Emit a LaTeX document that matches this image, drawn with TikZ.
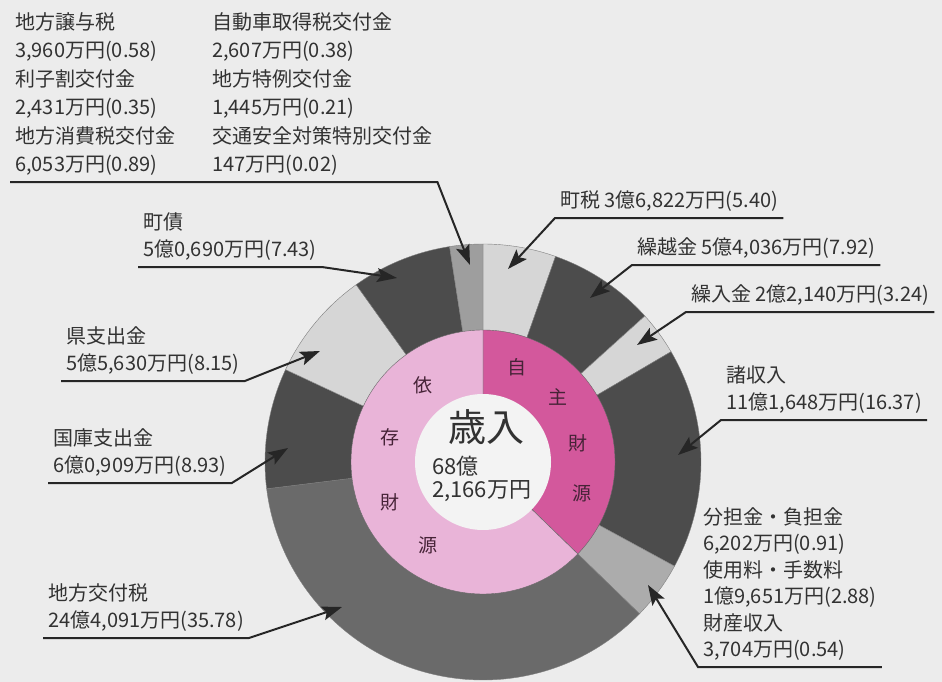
\documentclass[tikz,border=0pt]{standalone}
\usepackage{fontspec}
\setmainfont{Noto Sans CJK JP}
\usepackage{xcolor}
\usepackage{tikz}
\usetikzlibrary{arrows.meta}

\definecolor{bgGray}{RGB}{236,236,236}
\definecolor{txtGray}{RGB}{50,50,50}
\definecolor{lightSlice}{RGB}{214,214,214}
\definecolor{darkSlice}{RGB}{76,76,76}
\definecolor{kofuSlice}{RGB}{106,106,106}
\definecolor{midSlice}{RGB}{158,158,158}
\definecolor{bunSlice}{RGB}{172,172,172}
\definecolor{jishuPink}{RGB}{211,88,156}
\definecolor{izonPink}{RGB}{233,180,216}
\definecolor{centerWhite}{RGB}{243,243,243}
\definecolor{ringText}{RGB}{70,35,55}

\tikzset{
  lbl/.style={anchor=south west, align=left, text=txtGray,
    font=\fontsize{20}{27}\selectfont, inner xsep=5pt, inner ysep=6pt},
  leader/.style={line width=2pt, black!85,
    -{Stealth[length=20pt,width=14pt,inset=4pt]}},
  ringchar/.style={font=\fontsize{19}{19}\selectfont, text=ringText},
}

\begin{document}
\begin{tikzpicture}[x=1pt,y=1pt]
      \useasboundingbox (0,0) rectangle (942,-682);
      \fill[bgGray] (0,0) rectangle (942,-682);

      \coordinate (ctr) at (483,-462);
      \def\ringslice#1#2#3{\fill[#3,draw=gray,line width=0.4pt]
        (ctr) -- ++(#1:218) arc[start angle=#1, end angle=#2, radius=218] -- cycle;}

      % outer ring, clockwise from the top
      \ringslice{90}{70.56}{lightSlice}
      \ringslice{70.56}{42.05}{darkSlice}
      \ringslice{42.05}{30.39}{lightSlice}
      \ringslice{30.39}{-28.54}{darkSlice}
      \ringslice{-28.54}{-44.13}{bunSlice}
      \ringslice{-44.13}{-172.94}{kofuSlice}
      \ringslice{-172.94}{-205.09}{darkSlice}
      \ringslice{-205.09}{-234.43}{lightSlice}
      \ringslice{-234.43}{-261.18}{darkSlice}
      \ringslice{-261.18}{-270}{midSlice}

      % inner ring
      \fill[jishuPink,draw=gray!80!black,line width=0.4pt] (ctr) -- ++(90:132)
        arc[start angle=90, end angle=-44.13, radius=132] -- cycle;
      \fill[izonPink,draw=gray!80!black,line width=0.4pt] (ctr) -- ++(-44.13:132)
        arc[start angle=-44.13, end angle=-270, radius=132] -- cycle;
      \fill[centerWhite] (ctr) circle[radius=68];

      \node[text=txtGray,font=\fontsize{38}{38}\selectfont] (saiNyu) at (486,-427) {歳入};
      \node[text=txtGray,font=\fontsize{22}{23}\selectfont,align=left,anchor=west,
        inner sep=0pt] (total) at (432,-479) {68億\\2,166万円};

      \node[ringchar] (jiChar) at (517,-367) {自};
      \node[ringchar] (shuChar) at (558,-397) {主};
      \node[ringchar] (zaiA) at (578,-443) {財};
      \node[ringchar] (genA) at (582,-493) {源};
      \node[ringchar] (iChar) at (423,-385) {依};
      \node[ringchar] (sonChar) at (390,-437) {存};
      \node[ringchar] (zaiB) at (390,-502) {財};
      \node[ringchar] (genB) at (428,-545) {源};

      % labels and leaders
      \node[lbl,font=\fontsize{20}{28.5}\selectfont] (topColA) at (10,-182)
        {地方譲与税\\3,960万円(0.58)\\利子割交付金\\2,431万円(0.35)\\地方消費税交付金\\6,053万円(0.89)};
      \node[lbl,font=\fontsize{20}{28.5}\selectfont] (topColB) at (207,-182)
        {自動車取得税交付金\\2,607万円(0.38)\\地方特例交付金\\1,445万円(0.21)\\交通安全対策特別交付金\\147万円(0.02)};
      \coordinate (topTip) at (470,-265);
      \draw[leader] (topColA.south west) -- (topColB.south east) -- (topTip);

      \node[lbl] (choZei) at (555,-218) {町税 3億6,822万円(5.40)};
      \coordinate (choZeiTip) at (508,-269);
      \draw[leader] (choZei.south east) -- (choZei.south west) -- (choZeiTip);

      \node[lbl] (kuriKoshi) at (632,-265) {繰越金 5億4,036万円(7.92)};
      \coordinate (kuriKoshiTip) at (590,-298);
      \draw[leader] (kuriKoshi.south east) -- (kuriKoshi.south west) -- (kuriKoshiTip);

      \node[lbl] (kuriIre) at (686,-312) {繰入金 2億2,140万円(3.24)};
      \coordinate (kuriIreTip) at (637,-345);
      \draw[leader] (kuriIre.south east) -- (kuriIre.south west) -- (kuriIreTip);

      \node[lbl] (shoShunyu) at (721,-420) {諸収入\\11億1,648万円(16.37)};
      \coordinate (shoShunyuTip) at (678,-455);
      \draw[leader] (shoShunyu.south east) -- (shoShunyu.south west) -- (shoShunyuTip);

      \node[lbl,font=\fontsize{20}{26.5}\selectfont] (bunTan) at (698,-667)
        {分担金・負担金\\6,202万円(0.91)\\使用料・手数料\\1億9,651万円(2.88)\\財産収入\\3,704万円(0.54)};
      \coordinate (bunTanTip) at (648,-585);
      \draw[leader] (bunTan.south east) -- (bunTan.south west) -- (bunTanTip);

      \node[lbl] (choSai) at (138,-267) {町債\\5億0,690万円(7.43)};
      \coordinate (choSaiTip) at (397,-278);
      \draw[leader] (choSai.south west) -- (choSai.south east) -- (choSaiTip);

      \node[lbl] (kenShishutsu) at (61,-381) {県支出金\\5億5,630万円(8.15)};
      \coordinate (kenShishutsuTip) at (320,-351);
      \draw[leader] (kenShishutsu.south west) -- (kenShishutsu.south east) -- (kenShishutsuTip);

      \node[lbl] (kokko) at (48,-483) {国庫支出金\\6億0,909万円(8.93)};
      \coordinate (kokkoTip) at (288,-448);
      \draw[leader] (kokko.south west) -- (kokko.south east) -- (kokkoTip);

      \node[lbl] (chihoKofu) at (43,-638) {地方交付税\\24億4,091万円(35.78)};
      \coordinate (chihoKofuTip) at (342,-607);
      \draw[leader] (chihoKofu.south west) -- (chihoKofu.south east) -- (chihoKofuTip);
    \end{tikzpicture}
\end{document}
